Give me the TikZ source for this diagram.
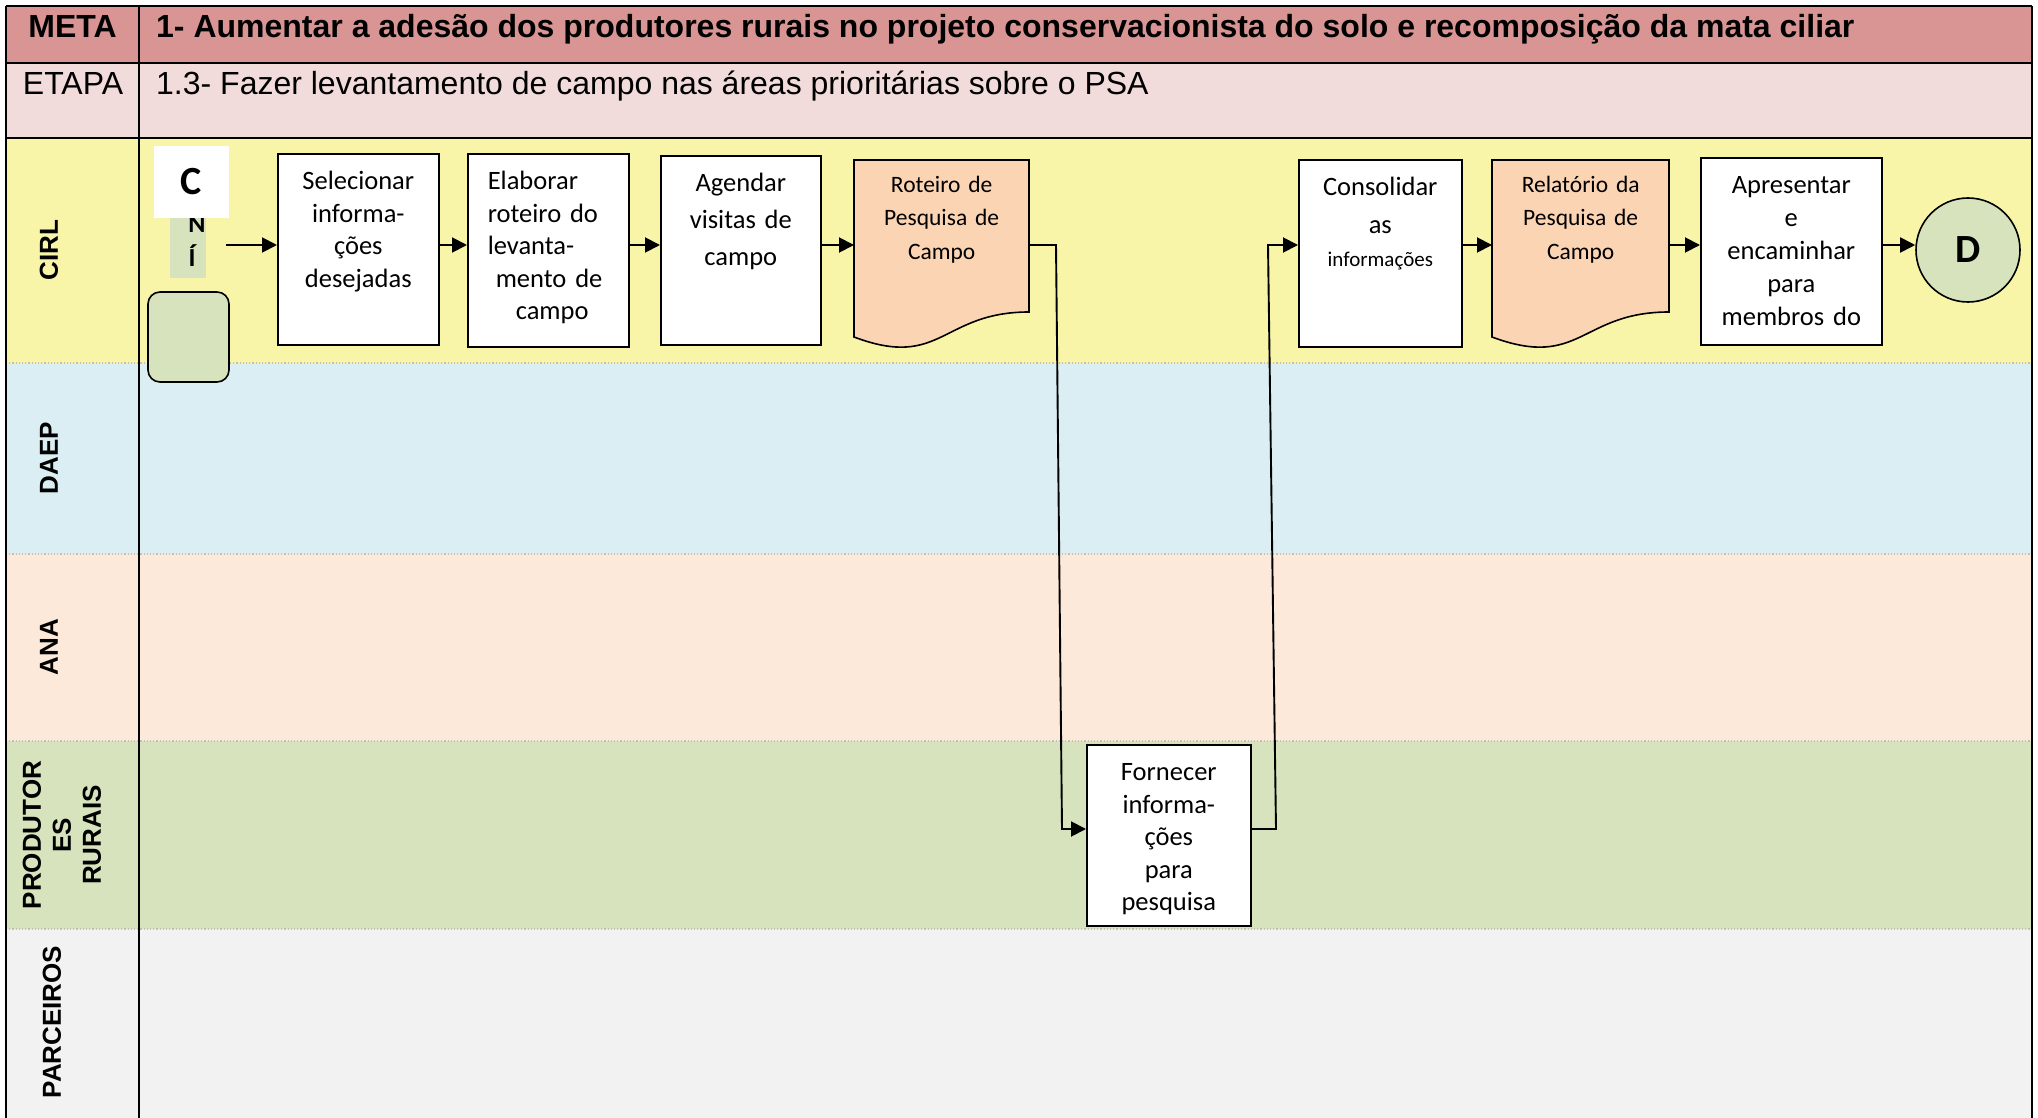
\documentclass[tikz,border=0pt]{standalone}
\usepackage{fontspec}
\setmainfont{Carlito}
\newfontfamily\arialfont{Liberation Sans}
\usepackage{xcolor}
\usetikzlibrary{arrows.meta,positioning,calc}

\definecolor{metared}{HTML}{D99594}
\definecolor{etapapink}{HTML}{F2DBDB}
\definecolor{cirlyellow}{HTML}{F9F5A8}
\definecolor{daepblue}{HTML}{DAEEF3}
\definecolor{anapeach}{HTML}{FDE9D9}
\definecolor{prodgreen}{HTML}{D6E3BC}
\definecolor{parcgray}{HTML}{F2F2F2}
\definecolor{docorange}{HTML}{FBD4B4}

\begin{document}
\begin{tikzpicture}[
      x=1pt, y=-1pt,
      sep/.style={draw=gray!50, dotted, line width=1.2pt},
      grid/.style={draw=black, line width=2.5pt},
      head/.style={inner sep=0pt, font=\arialfont\bfseries\fontsize{32pt}{38pt}\selectfont},
      headplain/.style={inner sep=0pt, font=\arialfont\fontsize{32pt}{38pt}\selectfont},
      role/.style={rotate=90, align=center, inner sep=0pt, font=\arialfont\bfseries\fontsize{26pt}{30pt}\selectfont},
      task/.style={rectangle, draw, fill=white, line width=1.6pt, anchor=north west, inner sep=0pt, align=center, text height=36pt, font=\fontsize{26.5pt}{32.5pt}\selectfont},
      doc/.style={rectangle, anchor=north west, inner sep=0pt, align=center, text height=32pt, text depth=158pt, font=\fontsize{23.5pt}{33.5pt}\selectfont},
      docline/.style={draw, fill=docorange, line width=1.6pt},
      terminal/.style={circle, draw, fill=prodgreen, line width=1.6pt, minimum size=104pt, inner sep=0pt, font=\bfseries\fontsize{40pt}{40pt}\selectfont},
      letter/.style={inner sep=0pt, anchor=base, font=\bfseries\fontsize{26pt}{26pt}\selectfont},
      arrow/.style={-{Triangle[length=15pt,width=15pt]}, line width=1.9pt}
    ]
      \useasboundingbox (0,0) rectangle (2038,1118);
      \fill[white] (0,0) rectangle (2038,1118);

      % Lanes
      \fill[metared] (6,6) rectangle (2032,63);
      \fill[etapapink] (6,63) rectangle (2032,138);
      \fill[cirlyellow] (6,138) rectangle (2032,363);
      \fill[daepblue] (6,363) rectangle (2032,554);
      \fill[anapeach] (6,554) rectangle (2032,741);
      \fill[prodgreen] (6,741) rectangle (2032,929);
      \fill[parcgray] (6,929) rectangle (2032,1118);
      \foreach \y in {363,554,741,929}
        \draw[sep] (6,\y) -- (2032,\y);

      % Table rules
      \draw[grid] (6,6) -- (2032,6);
      \draw[grid] (6,63) -- (2032,63);
      \draw[grid] (6,138) -- (2032,138);
      \draw[grid] (6,6) -- (6,1118);
      \draw[grid] (139,6) -- (139,1118);
      \draw[grid] (2032,6) -- (2032,1118);

      % Header
      \node[head, anchor=base] (meta) at (72.5,38) {META};
      \node[head, anchor=base west] (metatxt) at (156,38) {1- Aumentar a adesão dos produtores rurais no projeto conservacionista do solo e recomposição da mata ciliar};
      \node[headplain, anchor=base] (etapa) at (73,95) {ETAPA};
      \node[headplain, anchor=base west] (etapatxt) at (156,95) {1.3- Fazer levantamento de campo nas áreas prioritárias sobre o PSA};

      % Roles
      \node[role] (cirl) at (49,250) {CIRL};
      \node[role] (daep) at (49,458) {DAEP};
      \node[role] (ana) at (49,647) {ANA};
      \node[role] (prod) at (62,835) {PRODUTOR\\ES\\RURAIS};
      \node[role] (parc) at (52,1022) {PARCEIROS};

      % Start
      \node[fill=prodgreen, minimum width=36pt, minimum height=128pt, inner sep=0pt] (faixa) at (188,214) {};
      \node[letter] (letn) at (197,233) {N};
      \node[letter] (leti) at (192,266) {Í};
      \node[fill=white, minimum width=75pt, minimum height=72pt, inner sep=0pt, font=\bfseries\fontsize{40pt}{40pt}\selectfont] (inicio) at (191.5,182) {C\hspace{13pt}};
      \node[draw, fill=prodgreen, rounded corners=12pt, line width=1.6pt, minimum width=81pt, minimum height=90pt] (verde) at (188.5,337) {};

      % CIRL tasks
      \node[task, text width=161pt, text depth=155pt] (sel) at (277,153) {Selecionar\\informa-\\ções\\desejadas};
      \node[task, align=left, inner xsep=20pt, text width=121pt, text depth=157pt] (elab) at (467,153) {Elaborar\\roteiro do\\levanta-\\\hspace*{8pt}mento de\\\hspace*{28pt}campo};
      \node[task, text width=160pt, text depth=153pt, font=\fontsize{26.5pt}{37pt}\selectfont] (agen) at (660,155) {Agendar\\visitas de\\campo};
      \filldraw[docline] (854,160) -- (1029,160) -- (1029,312) .. controls (941.5,312) and (941.5,370) .. (854,337) -- cycle;
      \node[doc, text width=175pt] (rot) at (854,160) {Roteiro de\\Pesquisa de\\Campo};
      \node[task, text width=163pt, text depth=151pt] (cons) at (1298,159) {Consolidar\\[5.5pt]as\\{\fontsize{21pt}{26pt}\selectfont informações}};
      \filldraw[docline] (1492,160) -- (1669,160) -- (1669,312) .. controls (1580.5,312) and (1580.5,370) .. (1492,337) -- cycle;
      \node[doc, text width=177pt] (rel) at (1492,160) {Relatório da\\Pesquisa de\\Campo};
      \node[task, text width=181pt, text depth=151pt, font=\fontsize{26.5pt}{33pt}\selectfont] (apr) at (1700,157) {Apresentar\\e\\encaminhar\\para\\membros do};
      \node[terminal] (fim) at (1968,250) {D};

      % Produtores task
      \node[task, text width=164pt, text depth=145pt] (forn) at (1086,744) {Fornecer\\informa-\\ções\\para\\pesquisa};

      % Flow
      \coordinate (linha) at (0,245);
      \coordinate (linhaprod) at (0,829);
      \coordinate (ini) at (226,245);
      \draw[arrow] (ini) -- (ini -| sel.west);
      \draw[arrow] (sel.east |- linha) -- (elab.west |- linha);
      \draw[arrow] (elab.east |- linha) -- (agen.west |- linha);
      \draw[arrow] (agen.east |- linha) -- (rot.west |- linha);
      \draw[arrow] (cons.east |- linha) -- (rel.west |- linha);
      \draw[arrow] (rel.east |- linha) -- (apr.west |- linha);
      \draw[arrow] (apr.east |- linha) -- (fim.west |- linha);

      % Round trip to the producers
      \draw[arrow] (rot.east |- linha) -- (1056,245) -- (1062,829) -- (forn.west |- linhaprod);
      \draw[arrow] (forn.east |- linhaprod) -- (1276,829) -- (1268,245) -- (cons.west |- linha);
    \end{tikzpicture}
\end{document}
